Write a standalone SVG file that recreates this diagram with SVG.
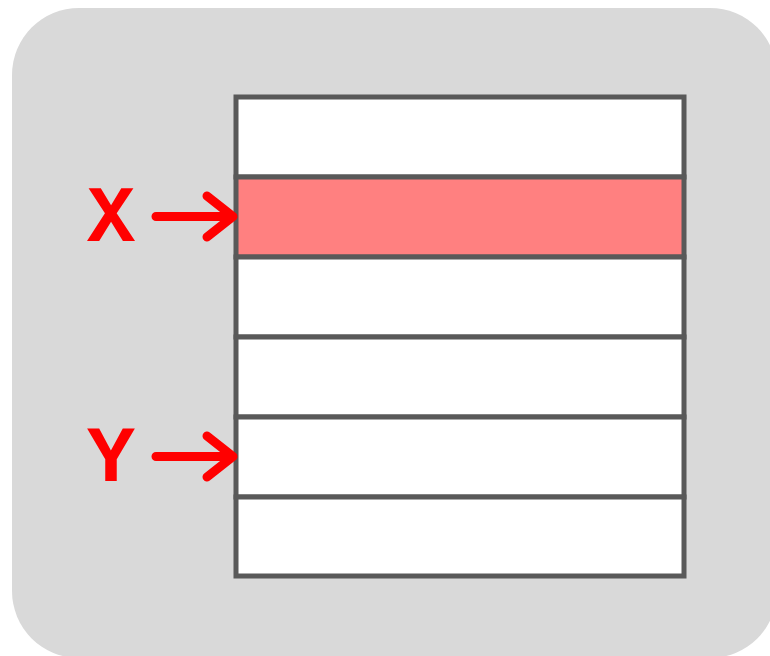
<svg xmlns="http://www.w3.org/2000/svg" width="770" height="656" viewBox="0 0 770 656">
  <style>
    .cell { fill: #ffffff; stroke: #595959; stroke-width: 5; }
    .hot { fill: #ff8080; }
    .pointer { fill: none; stroke: #ff0000; stroke-width: 9; stroke-linecap: round; stroke-linejoin: round; }
    .label { font-family: "Liberation Mono", "Courier New", monospace; font-weight: bold; font-size: 80px; fill: #ff0000; text-anchor: middle; }
  </style>
  <!-- panel background -->
  <rect x="12" y="8" width="765" height="650" rx="67" ry="67" fill="#d9d9d9"/>

  <!-- memory rows -->
  <g id="table">
    <rect id="row0" class="cell" x="236" y="97" width="448" height="80"/>
    <rect id="row1" class="cell hot" x="236" y="177" width="448" height="80" style="fill:#ff8080"/>
    <rect id="row2" class="cell" x="236" y="257" width="448" height="80"/>
    <rect id="row3" class="cell" x="236" y="337" width="448" height="80"/>
    <rect id="row4" class="cell" x="236" y="417" width="448" height="80"/>
    <rect id="row5" class="cell" x="236" y="497" width="448" height="79"/>
  </g>

  <g id="label-x">
    <text class="label" x="111" y="241">X</text>
  </g>
  <g id="label-y">
    <text class="label" x="111" y="481">Y</text>
  </g>

  <!-- pointer arrows -->
  <g id="connectors">
    <path class="pointer" d="M156,216.5 H232 M207,196 L233,216.5 L207,237"/>
    <path class="pointer" d="M156,456.5 H232 M207,436 L233,456.5 L207,477"/>
  </g>
</svg>
